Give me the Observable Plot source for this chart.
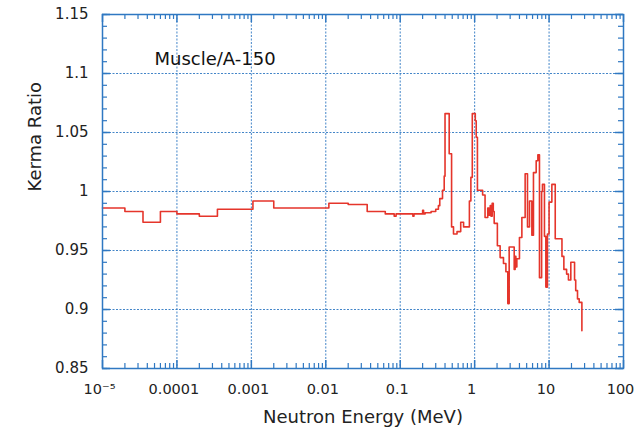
<!DOCTYPE html>
<html>
<head>
<meta charset="utf-8">
<script src="https://cdn.jsdelivr.net/npm/d3@7"></script>
<script src="https://cdn.jsdelivr.net/npm/@observablehq/plot@0.6"></script>
<style>
  html, body { margin: 0; padding: 0; background: #fff; }
  #chart svg { display: block; }
</style>
</head>
<body>
<div id="chart"></div>
<script>
// Neutron energy (MeV), step starts
const energy = [
  1e-5, 2e-5, 3.5e-5, 6e-5, 1e-4, 2e-4, 3.5e-4, 1.05e-3, 2e-3,
  0.011, 0.020, 0.036, 0.063, 0.083, 0.088, 0.148, 0.153, 0.20, 0.206,
  0.216, 0.26, 0.30, 0.326, 0.34, 0.37, 0.39, 0.40, 0.455, 0.49, 0.52,
  0.58, 0.65, 0.71, 0.85, 0.89, 0.93, 1.02, 1.05, 1.09, 1.28, 1.38,
  1.50, 1.55, 1.62, 1.66, 1.72, 1.78, 1.83, 2.02, 2.20, 2.44, 2.63,
  2.79, 2.91, 3.40, 3.50, 3.58, 3.69, 4.0, 4.31, 4.77, 5.13, 5.46,
  5.87, 6.17, 6.71, 7.07, 7.43, 7.94, 8.15, 8.67, 9.05, 9.51, 10.0,
  10.9, 12.1, 14.9, 15.8, 17.2, 18.2, 19.6, 22.0, 22.8, 24.1, 25.4, 27.6
];
// Kerma ratio Muscle/A-150
const ratio = [
  0.986, 0.983, 0.974, 0.983, 0.981, 0.979, 0.985, 0.992, 0.986,
  0.990, 0.989, 0.983, 0.981, 0.979, 0.981, 0.979, 0.981, 0.984, 0.981,
  0.982, 0.983, 0.985, 0.988, 0.994, 1.001, 1.013, 1.066, 1.032, 0.970, 0.964,
  0.966, 0.974, 0.970, 0.992, 1.012, 1.066, 1.060, 1.046, 1.001, 0.997, 0.978,
  0.986, 0.980, 0.988, 0.979, 0.990, 0.983, 0.973, 0.954, 0.944, 0.939, 0.932,
  0.905, 0.953, 0.934, 0.945, 0.936, 0.943, 0.961, 0.978, 1.015, 0.970, 0.992,
  0.963, 1.016, 1.026, 1.031, 0.927, 1.000, 1.006, 0.962, 0.919, 0.964, 0.991,
  1.006, 0.960, 0.945, 0.934, 0.930, 0.925, 0.940, 0.925, 0.916, 0.909, 0.906, 0.882
];

const xTicks = [1e-5, 1e-4, 1e-3, 0.01, 0.1, 1, 10, 100];
const xTickLabels = ["10\u207B\u2075", "0.0001", "0.001", "0.01", "0.1", "1", "10", "100"];
const yTicks = [0.85, 0.9, 0.95, 1, 1.05, 1.1, 1.15];
const yTickLabels = ["0.85", "0.9", "0.95", "1", "1.05", "1.1", "1.15"];
const xTitle = "Neutron Energy (MeV)";
const yTitle = "Kerma Ratio";
const annotation = "Muscle/A-150";

const data = energy.map((e, i) => ({energy: e, ratio: ratio[i]}));

const xMinor = [];
for (let p = -5; p < 2; p++) for (let m = 2; m <= 9; m++) xMinor.push(m * Math.pow(10, p));
const yMinor = d3.range(85, 116).map(v => v / 100);

const W = 636, H = 434;
const mL = 102, mR = 13, mT = 14, mB = 66;
const pw = W - mL - mR, ph = H - mT - mB;
const blue = "#2f78c2";
const font = "'DejaVu Sans', Verdana, sans-serif";

const chart = Plot.plot({
  width: W, height: H,
  marginLeft: mL, marginRight: mR, marginTop: mT, marginBottom: mB,
  style: {fontFamily: font, fontSize: "15px", color: "#222", background: "#fff"},
  x: {type: "log", domain: [1e-5, 100]},
  y: {domain: [0.85, 1.15]},
  marks: [
    Plot.gridX(xTicks, {stroke: blue, strokeOpacity: 0.9, strokeDasharray: "2,1.5", strokeWidth: 1}),
    Plot.gridY(yTicks, {stroke: blue, strokeOpacity: 0.9, strokeDasharray: "2,1.5", strokeWidth: 1}),
    // inside ticks: left/right
    Plot.tickY(yMinor, {y: d => d, insetRight: pw - 5, stroke: blue, strokeWidth: 1.2}),
    Plot.tickY(yMinor, {y: d => d, insetLeft: pw - 5, stroke: blue, strokeWidth: 1.2}),
    Plot.tickY(yTicks, {y: d => d, insetRight: pw - 8, stroke: blue, strokeWidth: 1.5}),
    Plot.tickY(yTicks, {y: d => d, insetLeft: pw - 8, stroke: blue, strokeWidth: 1.5}),
    // inside ticks: top/bottom
    Plot.tickX(xMinor, {x: d => d, insetTop: ph - 5, stroke: blue, strokeWidth: 1.2}),
    Plot.tickX(xMinor, {x: d => d, insetBottom: ph - 5, stroke: blue, strokeWidth: 1.2}),
    Plot.tickX(xTicks, {x: d => d, insetTop: ph - 8, stroke: blue, strokeWidth: 1.5}),
    Plot.tickX(xTicks, {x: d => d, insetBottom: ph - 8, stroke: blue, strokeWidth: 1.5}),
    Plot.axisX(xTicks, {
      tickSize: 0, tickPadding: 15, label: null, fontSize: 14.5, dx: -3,
      tickFormat: d => xTickLabels[xTicks.indexOf(d)]
    }),
    Plot.axisY(yTicks, {
      tickSize: 0, tickPadding: 14, label: null, fontSize: 15,
      tickFormat: d => yTickLabels[yTicks.indexOf(d)]
    }),
    Plot.line(data, {x: "energy", y: "ratio", curve: "step-after", stroke: "#e5352b", strokeWidth: 1.6}),
    Plot.frame({stroke: blue, strokeWidth: 1.5}),
    Plot.text([annotation], {text: d => d, frameAnchor: "top-left", dx: 52, dy: 38, textAnchor: "start", fontSize: 18, fill: "#111"}),
    Plot.text([xTitle], {text: d => d, frameAnchor: "bottom", dy: 54, fontSize: 18, fill: "#222"}),
    Plot.text([yTitle], {text: d => d, frameAnchor: "left", dx: -67, rotate: -90, fontSize: 18, fill: "#222"})
  ]
});
document.getElementById("chart").appendChild(chart);
</script>
</body>
</html>
